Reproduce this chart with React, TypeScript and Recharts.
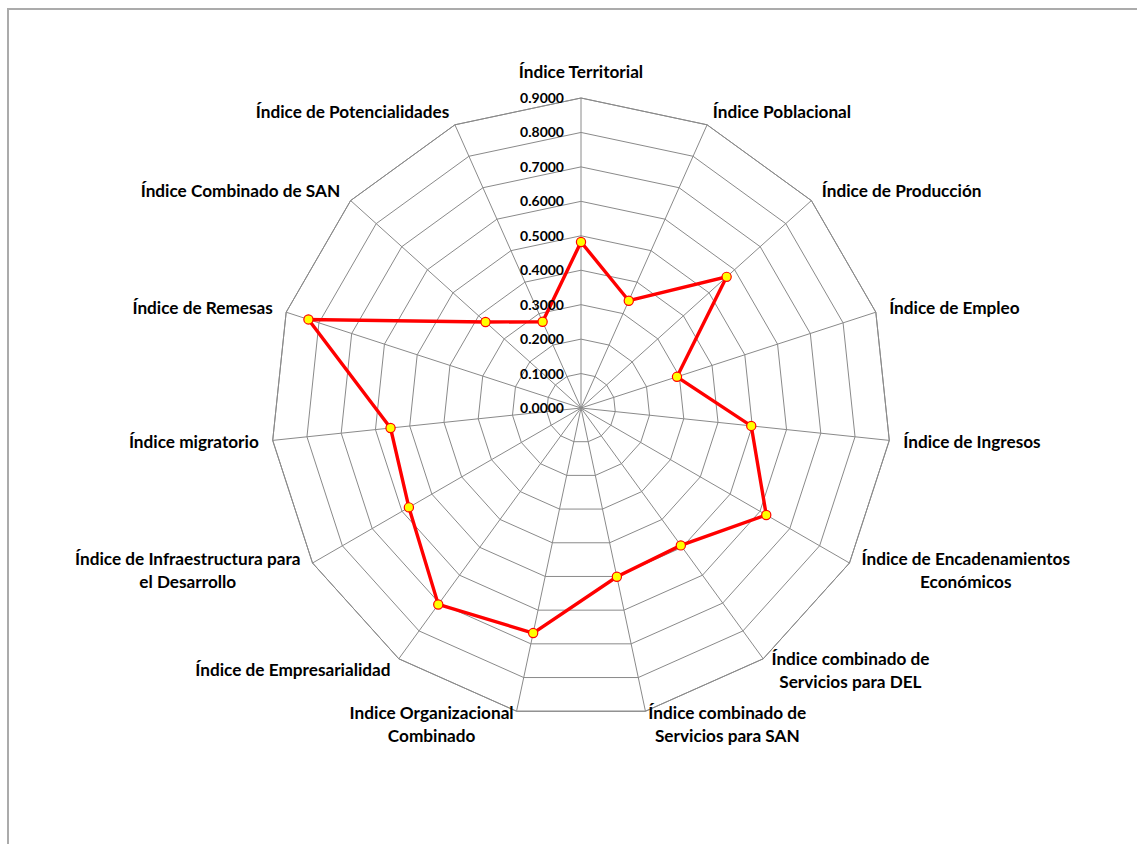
import React from 'react';
import { RadarChart, Radar, PolarGrid, PolarAngleAxis, PolarRadiusAxis } from 'recharts';

// category labels ("\n" marks where the original label wraps)
const CATEGORIES = [
  'Índice Territorial',
  'Índice Poblacional',
  'Índice de Producción',
  'Índice de Empleo',
  'Índice de Ingresos',
  'Índice de Encadenamientos\nEconómicos',
  'Índice combinado de\nServicios para DEL',
  'Índice combinado de\nServicios para SAN',
  'Indice Organizacional\nCombinado',
  'Índice de Empresarialidad',
  'Índice de Infraestructura para\nel Desarrollo',
  'Índice migratorio',
  'Índice de Remesas',
  'Índice Combinado de SAN',
  'Índice de Potencialidades',
];

const VALUES = [
  0.482, 0.341, 0.569, 0.293, 0.497, 0.621, 0.493, 0.501,
  0.668, 0.705, 0.577, 0.556, 0.832, 0.373, 0.274,
];

const RADIUS_TICKS = [0, 0.1, 0.2, 0.3, 0.4, 0.5, 0.6, 0.7, 0.8, 0.9];
const RADIUS_MAX = 0.9;

const data = CATEGORIES.map((name, i) => ({ name, value: VALUES[i] }));

const W = 1137;
const H = 844;
const CX = 581;
const CY = 408;
const R = 310; // radius of the 0.9 ring
// the radius scale here runs 0..1, so the full radius is stretched so that 0.9 lands on R
const R_FULL = R / RADIUS_MAX;
const FONT = 'Lato, "Open Sans", sans-serif';
const LABEL_SIZE = 17.2;
const TICK_SIZE = 14;
const GRID = '#8a8a8a';

let ctx: CanvasRenderingContext2D | null = null;
const measure = (s: string) => {
  if (!ctx) ctx = document.createElement('canvas').getContext('2d');
  if (!ctx) return s.length * 8;
  ctx.font = `700 ${LABEL_SIZE}px Lato`;
  return ctx.measureText(s).width;
};

const AngleTick = (props: any) => {
  const { x, y, payload } = props;
  const dx = x - CX;
  const dy = y - CY;
  const len = Math.sqrt(dx * dx + dy * dy) || 1;
  const ux = dx / len;
  const uy = dy / len;
  const lines = String(payload.value).split('\n');
  const boxW = Math.max(...lines.map(measure));
  let px = CX + ux * (R + 14);
  let py = CY + uy * (R + 14);
  if (Math.abs(ux) < 0.05) {
    py += uy < 0 ? -12 : 12;
  } else if (ux > 0) {
    px += boxW / 2;
  } else {
    px -= boxW / 2;
  }
  const lh = 23;
  const start = -((lines.length - 1) * lh) / 2;
  return (
    <text
      x={px}
      y={py}
      textAnchor="middle"
      fontFamily={FONT}
      fontWeight={700}
      fontSize={LABEL_SIZE}
      fill="#000"
    >
      {lines.map((l, i) => (
        <tspan key={i} x={px} y={py + start + i * lh} dy={6}>
          {l}
        </tspan>
      ))}
    </text>
  );
};

const RadiusTick = (props: any) => {
  const { x, y, payload } = props;
  return (
    <text
      x={x - 17}
      y={y}
      dy={5}
      textAnchor="end"
      fontFamily={FONT}
      fontWeight={700}
      fontSize={TICK_SIZE}
      fill="#000"
    >
      {Number(payload.value).toFixed(4)}
    </text>
  );
};

const Marker = (props: any) => {
  const { cx, cy } = props;
  if (cx == null || cy == null) return null;
  return <circle cx={cx} cy={cy} r={4.6} fill="#FFFF00" stroke="#FF0000" strokeWidth={1.2} />;
};

export default function App() {
  return (
    <div style={{ position: 'fixed', left: 0, top: 0, width: W, height: H, overflow: 'hidden', background: '#fff' }}>
      {/* chart frame, only its top and left edges are visible */}
      <div
        style={{
          position: 'absolute',
          left: 7,
          top: 8,
          width: 1400,
          height: 1100,
          border: '2px solid #ababab',
        }}
      />
      {/* spokes only, stopping at the outer (0.9) ring */}
      <div style={{ position: 'absolute', left: 0, top: 0 }}>
        <RadarChart width={W} height={H} cx={CX} cy={CY} outerRadius={R} data={data}>
          <PolarGrid gridType="polygon" stroke={GRID} strokeWidth={1} />
          <PolarAngleAxis dataKey="name" tick={false} tickLine={false} axisLine={false} />
          <PolarRadiusAxis angle={90} domain={[0, 1]} ticks={[1]} tick={false} axisLine={false} tickLine={false} />
          <Radar dataKey="value" stroke="none" fill="none" dot={false} isAnimationActive={false} />
        </RadarChart>
      </div>
      <div style={{ position: 'absolute', left: 0, top: 0 }}>
        <RadarChart width={W} height={H} cx={CX} cy={CY} outerRadius={R_FULL} data={data}>
          <PolarGrid gridType="polygon" radialLines={false} stroke={GRID} strokeWidth={1} />
          <PolarAngleAxis dataKey="name" tick={AngleTick} tickLine={false} axisLine={false} />
          <PolarRadiusAxis
            angle={90}
            domain={[0, 1]}
            ticks={RADIUS_TICKS}
            axisLine={false}
            tickLine={false}
            tick={RadiusTick}
          />
          <Radar
            dataKey="value"
            stroke="#FF0000"
            strokeWidth={3.4}
            fill="none"
            fillOpacity={0}
            dot={Marker}
            isAnimationActive={false}
          />
        </RadarChart>
      </div>
    </div>
  );
}
